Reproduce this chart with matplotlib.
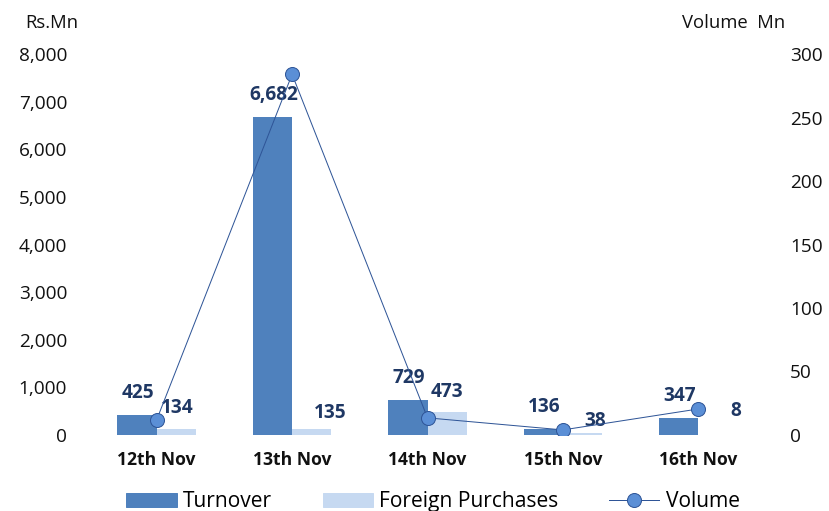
import matplotlib
matplotlib.use("Agg")
import matplotlib.pyplot as plt
import numpy as np
from matplotlib.lines import Line2D
from matplotlib.patches import Patch

categories = ["12th Nov", "13th Nov", "14th Nov", "15th Nov", "16th Nov"]
turnover = [425, 6682, 729, 136, 347]
foreign = [134, 135, 473, 38, 8]
volume = [12, 284, 13.5, 4, 20.5]
left_ticks = [0, 1000, 2000, 3000, 4000, 5000, 6000, 7000, 8000]
right_ticks = [0, 50, 100, 150, 200, 250, 300]

# label offsets (px) for foreign purchase labels
foreign_dx = [1, 18, 0, 13, 18]
foreign_dy = [21, 16, 20, 12, 24]

plt.rcParams['font.family'] = ['Open Sans', 'DejaVu Sans']

DPI = 72
fig = plt.figure(figsize=(829 / DPI, 511 / DPI), dpi=DPI)
ax = fig.add_axes([89 / 829, (511 - 435) / 511, (766 - 89) / 829, (435 - 54) / 511])
ax2 = ax.twinx()

x = np.arange(len(categories))
w = 0.29
c_turn = "#4F81BD"
c_for = "#C6D9F1"
c_lab = "#1F3864"
c_txt = "#111111"

ax.bar(x - w / 2, turnover, w, color=c_turn)
ax.bar(x + w / 2, foreign, w, color=c_for)

for xi, v in zip(x, turnover):
    ax.annotate(f"{v:,}", (xi - w / 2, v), xytext=(1, 22), textcoords="offset points",
                ha="center", va="center", fontsize=19, fontweight="bold", color=c_lab)
for xi, v, dx, dy in zip(x, foreign, foreign_dx, foreign_dy):
    ax.annotate(f"{v:,}", (xi + w / 2, v), xytext=(dx, dy), textcoords="offset points",
                ha="center", va="center", fontsize=19, fontweight="bold", color=c_lab)

ax2.plot(x, volume, color="#2F5597", lw=1, marker="o", markersize=14,
         markerfacecolor="#5B8FD6", markeredgecolor="#2F5597", markeredgewidth=1, zorder=5)

ax.set_xlim(-0.5, len(categories) - 0.5)
ax.set_ylim(0, 8000)
ax2.set_ylim(0, 300)
ax.set_yticks(left_ticks)
ax.set_yticklabels([f"{t:,}" for t in left_ticks], fontsize=19)
ax2.set_yticks(right_ticks)
ax2.set_yticklabels([str(t) for t in right_ticks], fontsize=19)
ax.set_xticks(x)
ax.set_xticklabels(categories, fontsize=17.5, fontweight="bold")

for a in (ax, ax2):
    for s in a.spines.values():
        s.set_visible(False)
    a.tick_params(length=0, colors=c_txt)
ax.tick_params(axis="y", pad=22)
ax2.tick_params(axis="y", pad=24)
ax.tick_params(axis="x", pad=16)

fig.text(25 / 829, 1 - 23 / 511, "Rs.Mn", fontsize=18.5, va="center", ha="left", color=c_txt)
fig.text(785 / 829, 1 - 23 / 511, "Volume  Mn", fontsize=18.5, va="center", ha="right", color=c_txt)

handles = [Patch(color=c_turn, label="Turnover"),
           Patch(color=c_for, label="Foreign Purchases"),
           Line2D([0], [0], color="#2F5597", lw=1, marker="o", markersize=14,
                  markerfacecolor="#5B8FD6", markeredgecolor="#2F5597", label="Volume")]
fig.legend(handles=handles, loc="center", bbox_to_anchor=(433 / 829, 1 - 502 / 511), ncol=3,
           frameon=False, fontsize=21, handlelength=2.4, columnspacing=2.4, handletextpad=0.3)

fig.savefig("out.png", dpi=DPI)
